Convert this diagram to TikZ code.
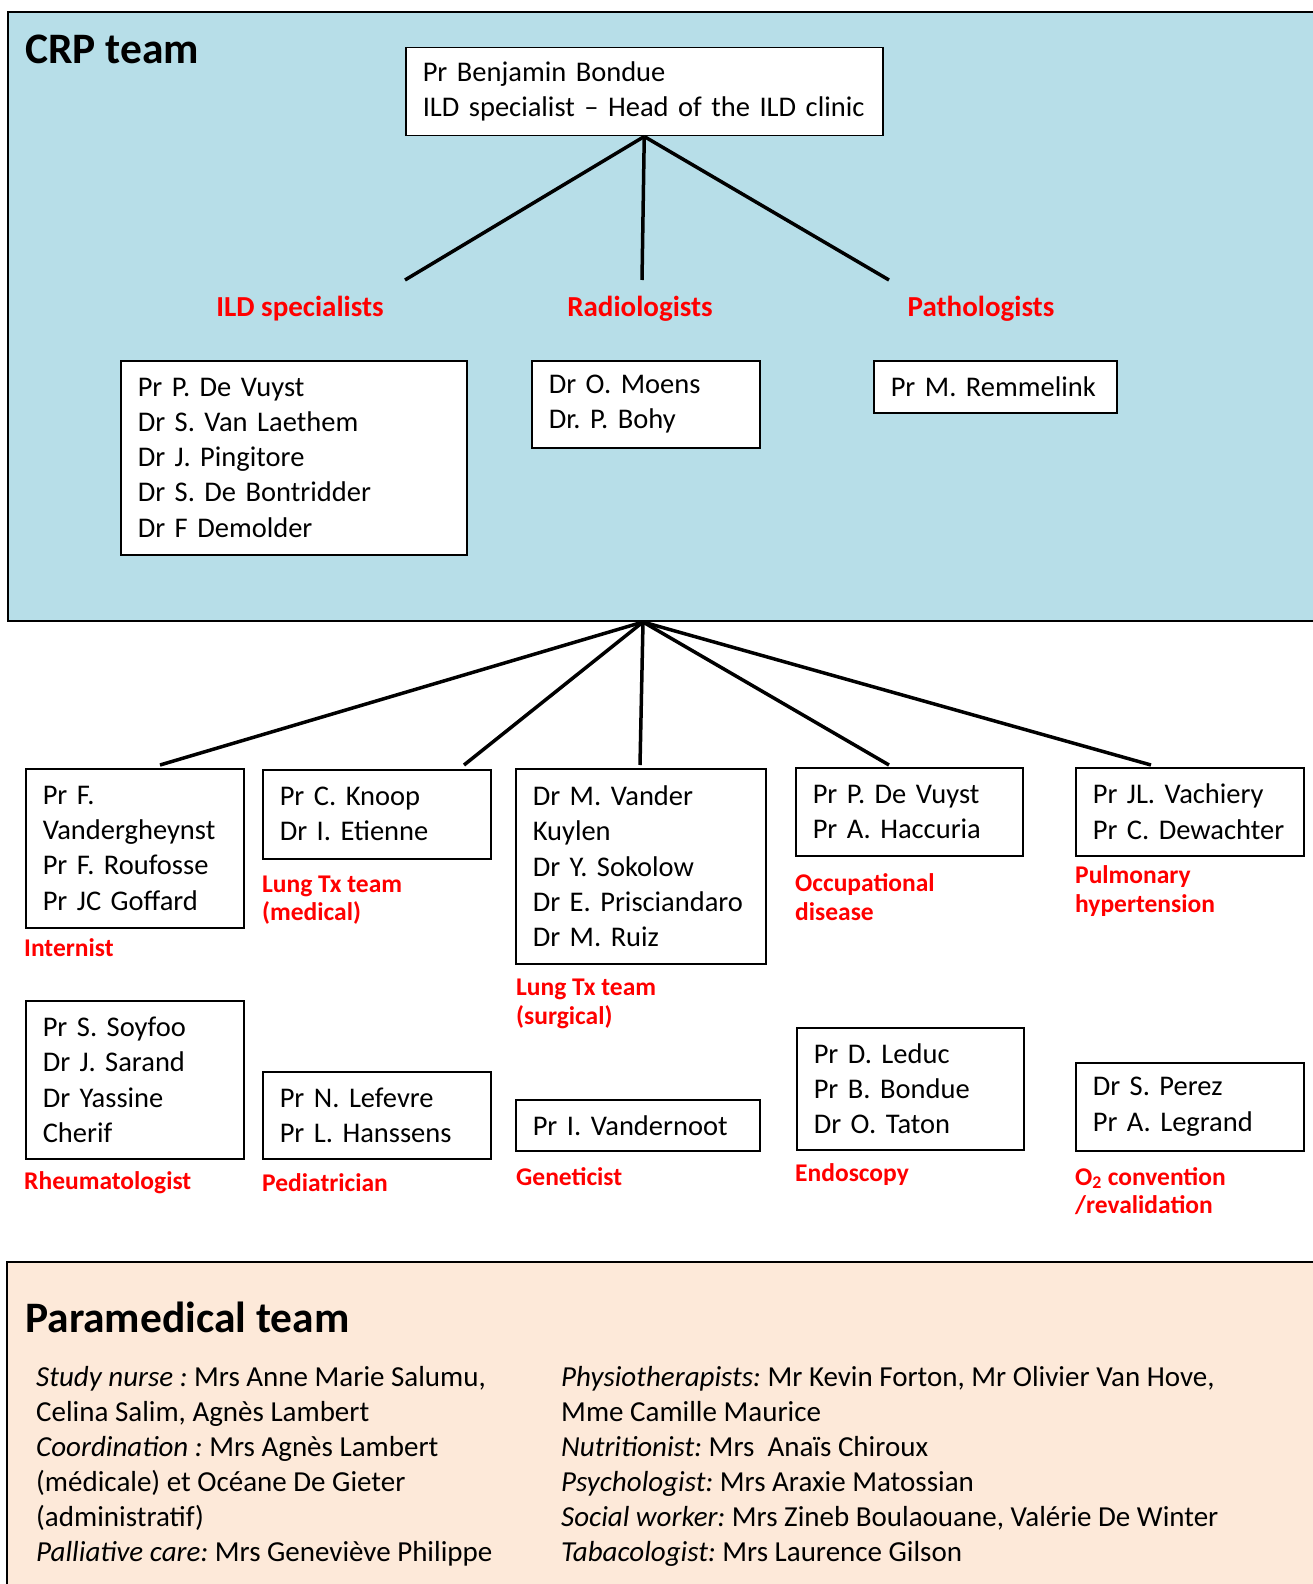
\documentclass[tikz,border=0pt]{standalone}
\usepackage{fontspec}
\setmainfont{Carlito}
\frenchspacing
\definecolor{crpblue}{HTML}{B7DEE8}
\definecolor{paraback}{HTML}{FDE9D9}
\definecolor{lblred}{HTML}{FF0000}
\newcommand\bxfont{\fontsize{28.5}{35.2}\selectfont}
\newcommand\stafffont{\fontsize{29}{35}\selectfont}
\newcommand\grpfont{\fontsize{29}{34}\selectfont\bfseries}
\newcommand\subfont{\fontsize{25.5}{28.5}\selectfont\bfseries}
\newcommand\ttlfont{\fontsize{43.5}{50}\selectfont\bfseries}
\tikzset{
  panel/.style={draw=black, line width=2pt},
  person/.style={draw=black, line width=1.5pt, fill=white, anchor=north west,
    align=left, inner xsep=17pt, inner ysep=0pt, font=\bxfont},
  grouplabel/.style={text=lblred, font=\grpfont, inner sep=0pt},
  sublabel/.style={text=lblred, font=\subfont, anchor=west, align=left, inner sep=0pt},
  title/.style={font=\ttlfont, anchor=west, inner sep=0pt},
  link/.style={line width=3.5pt, black},
  staff/.style={font=\stafffont, anchor=north west, align=left, inner sep=0pt}
}
\begin{document}
\begin{tikzpicture}[x=1pt,y=-1pt]
\useasboundingbox (0,0) rectangle (1312,1584);
\fill[white] (0,0) rectangle (1312,1584);

% panels
\draw[panel, fill=crpblue] (8,12) rectangle (1325,621);
\draw[panel, fill=paraback] (7,1262) rectangle (1325,1600);

\node[title] (crp) at (25,49) {CRP team};
\node[title] (para) at (25,1317) {Paramedical team};

% head of clinic
\node[person, text width=443pt, minimum height=88pt] (head) at (405,47)
  {Pr Benjamin Bondue\\ILD specialist – Head of the ILD clinic};

\coordinate (ildtop) at (405,280);
\coordinate (radtop) at (642,280);
\coordinate (pattop) at (889,280);
\draw[link] (head.south) -- (ildtop);
\draw[link] (head.south) -- (radtop);
\draw[link] (head.south) -- (pattop);

\node[grouplabel] (ildlbl) at (300,309) {ILD specialists};
\node[grouplabel] (radlbl) at (640,309) {Radiologists};
\node[grouplabel] (patlbl) at (981,309) {Pathologists};

\node[person, text width=312pt, minimum height=194pt] (ild) at (120,360)
  {Pr P. De Vuyst\\Dr S. Van Laethem\\Dr J. Pingitore\\Dr S. De Bontridder\\Dr F Demolder};
\node[person, text width=194pt, minimum height=87pt] (rad) at (531,360)
  {Dr O. Moens\\Dr. P. Bohy};
\node[person, text width=209pt, minimum height=52pt] (pat) at (873,360)
  {Pr M. Remmelink};

% consultants outside the core team
\coordinate (hub) at (643,622);
\coordinate (inttop) at (160,765);
\coordinate (ltmtop) at (464,765);
\coordinate (ltstop) at (640,765);
\coordinate (occtop) at (889,765);
\coordinate (phtop) at (1151,765);
\draw[link] (hub) -- (inttop);
\draw[link] (hub) -- (ltmtop);
\draw[link] (hub) -- (ltstop);
\draw[link] (hub) -- (occtop);
\draw[link] (hub) -- (phtop);

\node[person, text width=184pt, minimum height=159pt] (int) at (25,768)
  {Pr F.\\Vandergheynst\\Pr F. Roufosse\\Pr JC Goffard};
\node[person, text width=194pt, minimum height=89pt] (ltm) at (262,769)
  {Pr C. Knoop\\Dr I. Etienne};
\node[person, text width=216pt, minimum height=195pt] (lts) at (515,768)
  {Dr M. Vander\\Kuylen\\Dr Y. Sokolow\\Dr E. Prisciandaro\\Dr M. Ruiz};
\node[person, text width=193pt, minimum height=88pt] (occ) at (795,767)
  {Pr P. De Vuyst\\Pr A. Haccuria};
\node[person, text width=194pt, minimum height=88pt] (ph) at (1075,767)
  {Pr JL. Vachiery\\Pr C. Dewachter};

\node[sublabel] (intlbl) at (24,948) {Internist};
\node[sublabel] (ltmlbl) at (262,900) {Lung Tx team\\(medical)};
\node[sublabel] (ltslbl) at (516,1004) {Lung Tx team\\(surgical)};
\node[sublabel] (occlbl) at (795,897) {Occupational\\disease};
\node[sublabel] (phlbl) at (1075,891) {Pulmonary\\hypertension};

\node[person, text width=184pt, minimum height=158pt] (rhe) at (25,1000)
  {Pr S. Soyfoo\\Dr J. Sarand\\Dr Yassine\\Cherif};
\node[person, text width=194pt, minimum height=87pt] (ped) at (262,1071)
  {Pr N. Lefevre\\Pr L. Hanssens};
\node[person, text width=210pt, minimum height=51pt] (gen) at (515,1099)
  {Pr I. Vandernoot};
\node[person, text width=193pt, minimum height=122pt] (endo) at (796,1027)
  {Pr D. Leduc\\Pr B. Bondue\\Dr O. Taton};
\node[person, text width=194pt, minimum height=88pt] (otwo) at (1075,1062)
  {Dr S. Perez\\Pr A. Legrand};

\node[sublabel] (rhelbl) at (24,1183) {Rheumatologist};
\node[sublabel] (pedlbl) at (262,1183) {Pediatrician};
\node[sublabel] (genlbl) at (516,1177) {Geneticist};
\node[sublabel] (endlbl) at (795,1175) {Endoscopy};
\node[sublabel] (otwolbl) at (1075,1191) {O\textsubscript{2} convention\\/revalidation};

% paramedical staff
\node[staff] (staffleft) at (36,1366)
  {\textit{Study nurse :} Mrs Anne Marie Salumu,\\
   Celina Salim, Agnès Lambert\\
   \textit{Coordination :} Mrs Agnès Lambert\\
   (médicale) et Océane De Gieter\\
   (administratif)\\
   \textit{Palliative care:} Mrs Geneviève Philippe};
\node[staff] (staffright) at (561,1366)
  {\textit{Physiotherapists:} Mr Kevin Forton, Mr Olivier Van Hove,\\
   Mme Camille Maurice\\
   \textit{Nutritionist:} Mrs\ \ Anaïs Chiroux\\
   \textit{Psychologist:} Mrs Araxie Matossian\\
   \textit{Social worker:} Mrs Zineb Boulaouane, Valérie De Winter\\
   \textit{Tabacologist:} Mrs Laurence Gilson};
\end{tikzpicture}
\end{document}
